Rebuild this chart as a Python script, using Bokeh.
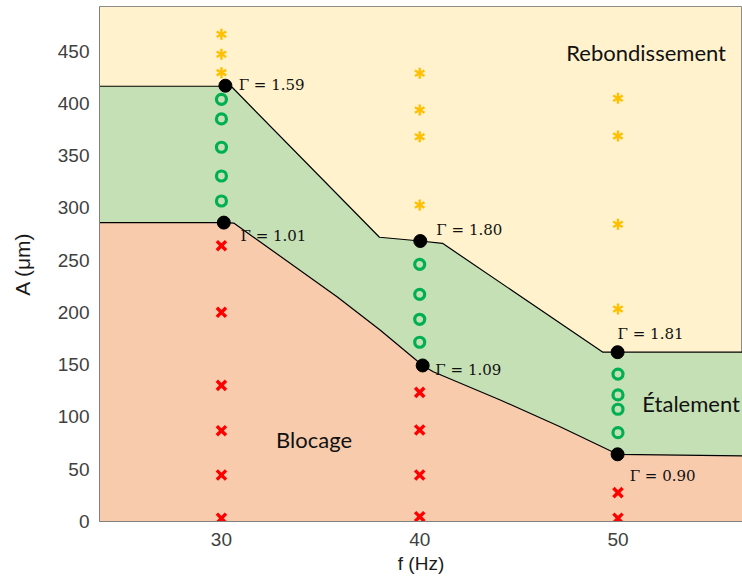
import math
from bokeh.plotting import figure
from bokeh.models import Range1d, Label, FixedTicker
from bokeh.embed import file_html
from bokeh.resources import INLINE

# ---------------- data ----------------
F_MIN, F_MAX = 23.85, 56.28
A_MIN, A_MAX = 0, 492.8

F_TICKS = [30, 40, 50]
A_TICKS = [0, 50, 100, 150, 200, 250, 300, 350, 400, 450]

# boundary Rebondissement / Etalement
UPPER_F = [F_MIN, 30.2, 30.54, 37.97, 40.03, 41.15, 49.24, F_MAX]
UPPER_A = [416.5, 416.5, 415.5, 272.0, 268.4, 266.2, 162.0, 162.0]
# boundary Etalement / Blocage
LOWER_F = [F_MIN, 30.12, 30.62, 35.83, 38.0, 40.15, 40.68, 44.06, 47.08, 49.98, F_MAX]
LOWER_A = [286.0, 286.0, 285.6, 215.1, 183.2, 149.3, 143.3, 116.3, 90.7, 64.3, 62.7]

# observations
REBOND_F = [30, 30, 30, 40, 40, 40, 40, 50, 50, 50, 50]
REBOND_A = [466.2, 447.1, 429.5, 428.9, 393.8, 368.2, 302.9, 405.0, 368.9, 284.4, 203.3]
ETAL_F = [30, 30, 30, 30, 30, 40, 40, 40, 40, 50, 50, 50, 50]
ETAL_A = [404.0, 385.2, 358.1, 330.6, 306.7, 246.1, 217.4, 193.5, 171.5, 141.1, 121.1, 107.4, 85.0]
BLOC_F = [30, 30, 30, 30, 30, 30, 40, 40, 40, 40, 50, 50]
BLOC_A = [263.9, 200.2, 130.3, 86.9, 44.5, 3.1, 123.6, 87.6, 44.5, 4.6, 27.6, 3.1]

# thresholds
THRESH_F = [30.2, 30.12, 40.03, 40.15, 49.98, 49.98]
THRESH_A = [417.0, 286.0, 268.4, 149.3, 162.0, 64.3]
THRESH_LABELS = ["Γ = 1.59", "Γ = 1.01", "Γ = 1.80", "Γ = 1.09", "Γ = 1.81", "Γ = 0.90"]

REGION_LABELS = ["Rebondissement", "Étalement", "Blocage"]

# ---------------- figure ----------------
p = figure(width=742, height=583, output_backend="svg", toolbar_location=None,
           x_range=Range1d(F_MIN, F_MAX), y_range=Range1d(A_MIN, A_MAX),
           min_border_left=99, min_border_right=0, min_border_top=6, min_border_bottom=62,
           background_fill_color="#FFF2CC", border_fill_color="white")
p.grid.visible = False
p.outline_line_color = "#8c8c8c"
p.outline_line_width = 1

for ax in (p.xaxis[0], p.yaxis[0]):
    ax.axis_line_color = "#808080"
    ax.major_tick_in = 0
    ax.major_tick_out = 0
    ax.minor_tick_in = 0
    ax.minor_tick_out = 0
    ax.major_label_text_font = "Liberation Sans"
    ax.major_label_text_font_size = "19px"
    ax.major_label_text_color = "#404040"
    ax.axis_label_text_font = "Liberation Sans"
    ax.axis_label_text_font_style = "normal"
    ax.axis_label_text_color = "#1a1a1a"
p.xaxis.axis_label_text_font_size = "19px"
p.yaxis.axis_label_text_font_size = "21px"
p.xaxis.ticker = FixedTicker(ticks=F_TICKS)
p.yaxis.ticker = FixedTicker(ticks=A_TICKS)
p.xaxis.major_label_standoff = 11
p.yaxis.major_label_standoff = 10
p.xaxis.axis_label = "f (Hz)"
p.yaxis.axis_label = "A (μm)"
p.xaxis.axis_label_standoff = 4
p.yaxis.axis_label_standoff = 21

# regions
p.varea(x=UPPER_F, y1=[A_MIN] * len(UPPER_F), y2=UPPER_A, fill_color="#C5E0B4")
p.varea(x=LOWER_F, y1=[A_MIN] * len(LOWER_F), y2=LOWER_A, fill_color="#F8CBAD")
p.line(UPPER_F, UPPER_A, line_color="black", line_width=1.2)
p.line(LOWER_F, LOWER_A, line_color="black", line_width=1.2)

# markers: six-armed asterisks built from three rotated dashes
for ang in (math.pi / 2, math.pi / 6, -math.pi / 6):
    p.scatter(REBOND_F, REBOND_A, marker="dash", angle=ang, size=11,
              line_color="#FFC000", line_width=2.4)
p.scatter(ETAL_F, ETAL_A, marker="circle", size=10, fill_alpha=0, line_color="#00B050", line_width=3.2)
p.scatter(BLOC_F, BLOC_A, marker="x", size=13, line_color="#FF0000", line_width=3.4)
p.scatter(THRESH_F, THRESH_A, marker="circle", size=13, fill_color="black", line_color="black")

# threshold labels
gam_pos = [(30.87, 417.3), (30.96, 272.8), (40.84, 278.5), (40.79, 145.2), (49.98, 179.0), (50.59, 44.0)]
for (gx, gy), t in zip(gam_pos, THRESH_LABELS):
    p.add_layout(Label(x=gx, y=gy, text=t, text_font="DejaVu Serif", text_font_size="15px",
                       text_align="left", text_baseline="middle", text_color="#111111"))

# region labels
reg_pos = [(51.42, 449.2), (53.69, 112.7), (34.67, 78.5)]
for (rx, ry), t in zip(reg_pos, REGION_LABELS):
    p.add_layout(Label(x=rx, y=ry, text=t, text_font="Lato", text_font_size="22px",
                       text_align="center", text_baseline="middle", text_color="#111111"))

open("out.html", "w").write(file_html(p, INLINE))
